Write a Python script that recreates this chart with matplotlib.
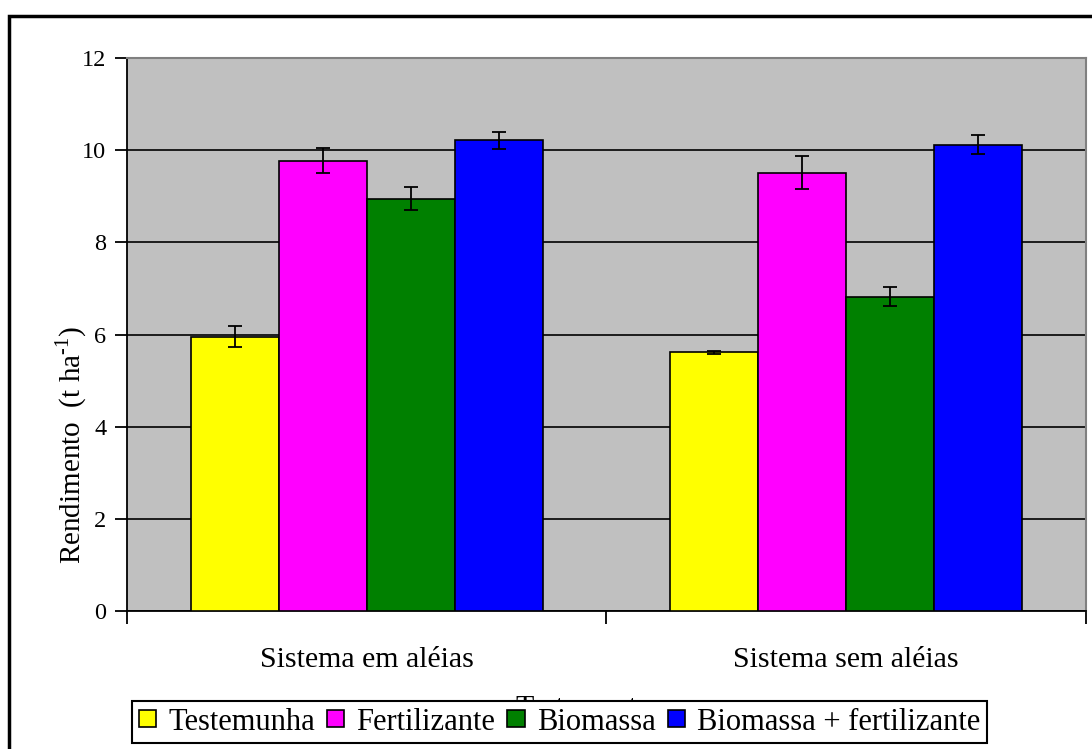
import numpy as np
import matplotlib.pyplot as plt
from matplotlib.patches import Rectangle

# data
sistemas = ['Sistema em aléias', 'Sistema sem aléias']
tratamentos = ['Testemunha', 'Fertilizante', 'Biomassa', 'Biomassa + fertilizante']
cores = ['#FFFF00', '#FF00FF', '#008000', '#0000FF']

testemunha = [5.95, 5.61]
fertilizante = [9.77, 9.51]
biomassa = [8.95, 6.82]
bio_fert = [10.21, 10.12]

err_testemunha = [0.23, 0.04]
err_fertilizante = [0.27, 0.36]
err_biomassa = [0.25, 0.20]
err_bio_fert = [0.18, 0.20]

plt.rcParams['font.family'] = ['Liberation Serif', 'DejaVu Serif']

fig = plt.figure(figsize=(10.92, 7.49), dpi=100)
ax = fig.add_axes([0.1163, 0.1842, 0.8782, 0.7384])

valores = [testemunha, fertilizante, biomassa, bio_fert]
erros = [err_testemunha, err_fertilizante, err_biomassa, err_bio_fert]
x = np.arange(len(sistemas))
w = 0.1837

for i in range(len(tratamentos)):
    pos = x + (i - 1.5) * w
    ax.bar(pos, valores[i], w, color=cores[i], edgecolor='black', linewidth=1.2,
           label=tratamentos[i], zorder=3)
    ax.errorbar(pos, valores[i], yerr=erros[i], fmt='none', ecolor='black',
                elinewidth=1.3, capsize=5, capthick=1.3, zorder=4)

ax.set_facecolor('#C0C0C0')
ax.set_xlim(-0.5, 1.5)
ax.set_ylim(0, 12)
ax.set_yticks(range(0, 13, 2))
ax.yaxis.grid(True, color='black', linewidth=1.2, zorder=1)
ax.set_axisbelow(True)

ax.set_xticks([-0.5, 0.5, 1.5])
ax.set_xticklabels([])
ax.set_xticks(x, minor=True)
ax.set_xticklabels(sistemas, minor=True, fontsize=21.5)
ax.tick_params(axis='x', which='minor', length=0, pad=26)
ax.tick_params(axis='x', which='major', direction='out', length=9, width=1.3)
ax.tick_params(axis='y', direction='out', length=9, width=1.3, labelsize=17.5, pad=6)

for s in ['top', 'right']:
    ax.spines[s].set_color('#808080')
    ax.spines[s].set_linewidth(1.5)
for s in ['left', 'bottom']:
    ax.spines[s].set_color('black')
    ax.spines[s].set_linewidth(1.3)

ax.set_ylabel('Rendimento  (t ha$^{\\mathregular{\u2010 1}}$)', fontsize=21)
ax.yaxis.set_label_coords(-0.040, 0.30)

fig.text(0.540, 0.0721, 'Tratamentos', fontsize=21.5, ha='center', va='top', zorder=1)

leg = fig.legend(loc='center', bbox_to_anchor=(0.5124, 0.036), ncol=4, fontsize=22,
                 frameon=True, fancybox=False, edgecolor='black', framealpha=1,
                 handlelength=0.56, handleheight=0.5, handletextpad=0.4,
                 columnspacing=0.4, borderpad=0.22, borderaxespad=0)
leg.get_frame().set_linewidth(1.5)
leg.set_zorder(10)

# outer chart border
fig.patches.append(Rectangle((9 / 1092, -0.05), 1.1, 1 - 16 / 749 + 0.05,
                             transform=fig.transFigure, fill=False,
                             edgecolor='black', linewidth=2.5))

fig.savefig('out.png', dpi=100)
